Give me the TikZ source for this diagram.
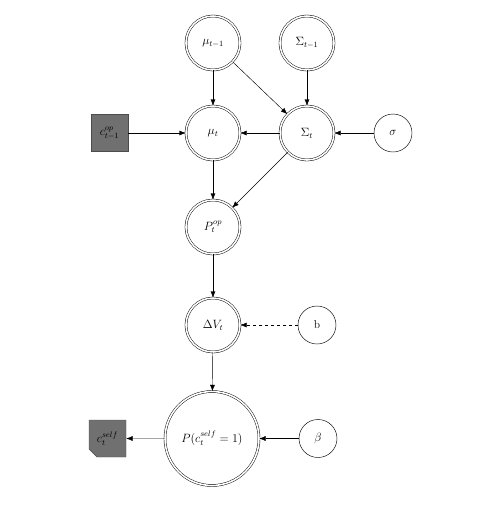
\documentclass[tikz,border=0pt]{standalone}
\usetikzlibrary{arrows.meta,shapes.misc}
\begin{document}
\begin{tikzpicture}[x=1pt,y=-1pt,
  dbl/.style={circle,draw,line width=0.45pt,double,double distance=1.6pt,minimum size=54pt,inner sep=0pt,font=\fontsize{11.5}{13}\selectfont},
  big/.style={dbl,minimum size=94pt},
  sng/.style={circle,draw,line width=0.45pt,minimum size=38pt,inner sep=0pt,font=\fontsize{11.5}{13}\selectfont},
  obs/.style={rectangle,draw=black!70,line width=0.45pt,fill=black!56,minimum size=37pt,inner sep=0pt,font=\fontsize{11.5}{13}\selectfont},
  obsc/.style={chamfered rectangle,chamfered rectangle corners=south west,chamfered rectangle xsep=4pt,chamfered rectangle ysep=4pt,draw=black!70,line width=0.45pt,fill=black!56,minimum width=37pt,minimum height=37pt,inner sep=0pt,font=\fontsize{11.5}{13}\selectfont},
  arr/.style={-{Latex[length=6.5pt,width=5pt]},line width=0.45pt}]
\useasboundingbox (0,0) rectangle (484,507);
\node[dbl] (mu1) at (213,43) {$\mu_{t-1}$};
\node[dbl] (S1) at (307,43) {$\Sigma_{t-1}$};
\node[dbl] (mu) at (213,133) {$\mu_t$};
\node[dbl] (S) at (307,133) {$\Sigma_t$};
\node[obs] (cop) at (109.5,133) {$c^{op}_{t-1}$};
\node[sng] (sig) at (393,133) {$\sigma$};
\node[dbl] (P) at (213,227) {$P^{op}_t$};
\node[dbl] (dV) at (213,325) {$\Delta V_t$};
\node[sng] (b) at (317,325) {b};
\node[big] (Pc) at (212,438.5) {$P(c^{self}_t=1)$};
\node[sng] (beta) at (318,438.5) {$\beta$};
\node[obsc] (cs) at (107.5,438.5) {$c^{self}_t$};
\draw[arr] (mu1) -- (mu);
\draw[arr] (mu1) -- (S);
\draw[arr] (S1) -- (S);
\draw[arr] (cop) -- (mu);
\draw[arr] (S) -- (mu);
\draw[arr] (sig) -- (S);
\draw[arr] (mu) -- (P);
\draw[arr] (S) -- (P);
\draw[arr] (P) -- (dV);
\draw[arr,dashed] (b) -- (dV);
\draw[arr] (dV) -- (Pc);
\draw[arr] (Pc) -- (cs);
\draw[arr] (beta) -- (Pc);
\end{tikzpicture}
\end{document}
